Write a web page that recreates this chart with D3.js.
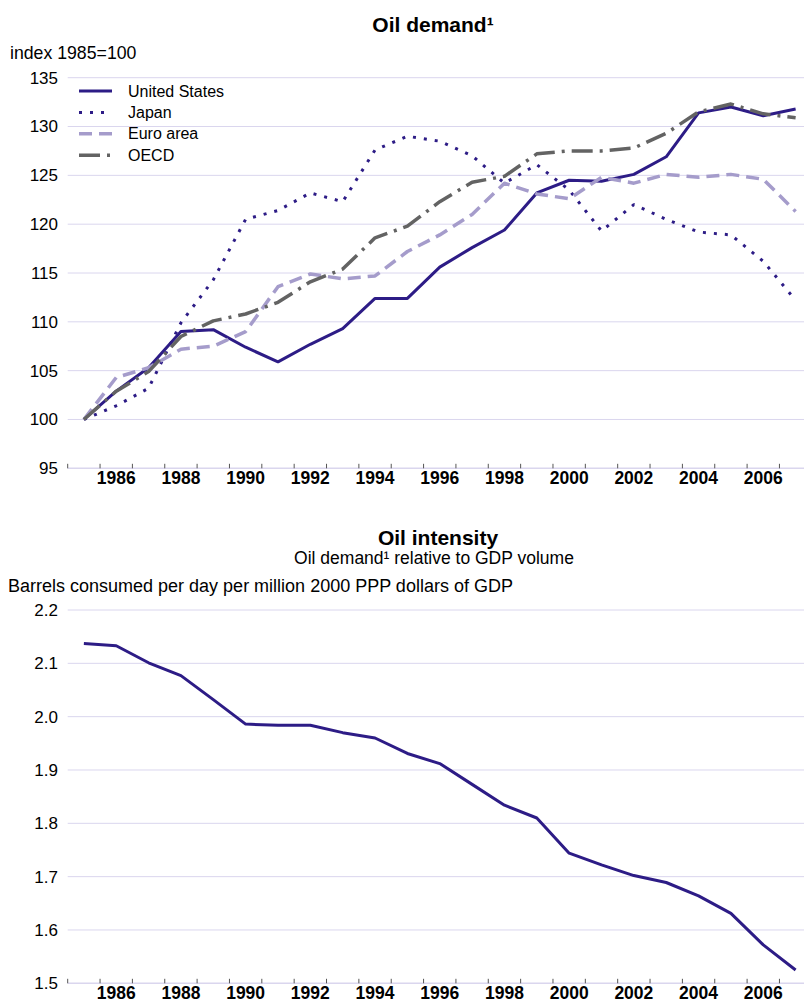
<!DOCTYPE html>
<html>
<head>
<meta charset="utf-8">
<script src="https://cdn.jsdelivr.net/npm/d3@7"></script>
<style>
  body { margin: 0; background: #fff; }
  text { font-family: "Liberation Sans", Arial, Helvetica, sans-serif; fill: #000; }
</style>
</head>
<body>
<div id="vis"></div>
<script>
// ==== DATA ====
const years = [1985, 1986, 1987, 1988, 1989, 1990, 1991, 1992, 1993, 1994, 1995, 1996,
               1997, 1998, 1999, 2000, 2001, 2002, 2003, 2004, 2005, 2006, 2007];
const yearLabels = [1986, 1988, 1990, 1992, 1994, 1996, 1998, 2000, 2002, 2004, 2006];

// Oil demand, index 1985=100
const usDemand   = [100, 102.9, 105.3, 109.0, 109.2, 107.4, 105.9, 107.7, 109.3, 112.4, 112.4, 115.6,
                    117.6, 119.4, 123.2, 124.5, 124.4, 125.1, 126.9, 131.4, 132.0, 131.1, 131.8];
const japanDemand = [100, 101.4, 103.2, 109.9, 114.3, 120.5, 121.4, 123.2, 122.3, 127.6, 129.0, 128.5,
                    127.0, 124.2, 126.1, 123.5, 119.3, 122.0, 120.5, 119.2, 118.9, 116.2, 112.2];
const euroDemand = [100, 104.3, 105.3, 107.2, 107.5, 109.0, 113.6, 114.9, 114.4, 114.7, 117.2, 118.9,
                    121.0, 124.2, 123.1, 122.6, 124.8, 124.2, 125.1, 124.8, 125.1, 124.6, 121.3];
const oecdDemand = [100, 102.9, 104.9, 108.5, 110.1, 110.8, 112.0, 114.1, 115.4, 118.6, 119.8, 122.3,
                    124.3, 124.9, 127.2, 127.5, 127.5, 127.8, 129.3, 131.5, 132.3, 131.3, 130.9];
const demandTicks = [95, 100, 105, 110, 115, 120, 125, 130, 135];

// Oil intensity, barrels per day per million 2000 PPP dollars of GDP
const usIntensity = [2.137, 2.133, 2.101, 2.077, 2.032, 1.986, 1.984, 1.984, 1.970, 1.960, 1.931, 1.912,
                     1.873, 1.834, 1.810, 1.744, 1.722, 1.702, 1.689, 1.664, 1.631, 1.572, 1.525];
const intensityTicks = [1.5, 1.6, 1.7, 1.8, 1.9, 2.0, 2.1, 2.2];

const series = [
  {name: "United States", values: usDemand,    color: "#2d1c86", width: 3,   dash: null},
  {name: "Japan",         values: japanDemand, color: "#2d1c86", width: 3,   dash: "3,8"},
  {name: "Euro area",     values: euroDemand,  color: "#a59ccb", width: 3.5, dash: "13,7"},
  {name: "OECD",          values: oecdDemand,  color: "#636363", width: 3.5, dash: "21,7,3,7"}
];

// ==== SETUP ====
const width = 804, height = 1003;
const svg = d3.select("#vis").append("svg")
  .attr("width", width)
  .attr("height", height);

const gridColor = "#dad6ee";
const x = d3.scaleBand().domain(years).range([67.7, 811.8]).padding(0);
const cx = d => x(d) + x.bandwidth() / 2;

// ==== PANEL ====
function drawPanel(y, ticks, fmt) {
  const g = svg.append("g");

  g.selectAll("line.grid")
    .data(ticks)
    .enter().append("line")
    .attr("class", "grid")
    .attr("x1", x.range()[0]).attr("x2", x.range()[1])
    .attr("y1", d => y(d)).attr("y2", d => y(d))
    .attr("stroke", gridColor)
    .attr("stroke-width", (d, i) => i === 0 ? 1.5 : 1);

  g.selectAll("text.ylab")
    .data(ticks)
    .enter().append("text")
    .attr("class", "ylab")
    .attr("x", 58)
    .attr("y", d => y(d))
    .attr("dy", "0.35em")
    .attr("text-anchor", "end")
    .style("font-size", "17px")
    .text(fmt);

  const base = y(ticks[0]);
  g.selectAll("line.xtick")
    .data(years)
    .enter().append("line")
    .attr("class", "xtick")
    .attr("x1", d => x(d)).attr("x2", d => x(d))
    .attr("y1", base).attr("y2", base - 4.5)
    .attr("stroke", "#555")
    .attr("stroke-width", 1);

  g.selectAll("text.xlab")
    .data(yearLabels)
    .enter().append("text")
    .attr("class", "xlab")
    .attr("x", d => cx(d))
    .attr("y", base + 15.7)
    .attr("text-anchor", "middle")
    .style("font-size", "17.5px")
    .style("font-weight", "bold")
    .text(d => d);

  return g;
}

// ==== TOP: OIL DEMAND ====
const yTop = d3.scaleLinear().domain([95, 135]).range([468.3, 77.7]);
const topPanel = drawPanel(yTop, demandTicks, d => d);

svg.append("text")
  .attr("x", 433).attr("y", 32)
  .attr("text-anchor", "middle")
  .style("font-size", "21px").style("font-weight", "bold")
  .text("Oil demand¹");

svg.append("text")
  .attr("x", 10).attr("y", 59)
  .style("font-size", "17.7px")
  .text("index 1985=100");

const lineTop = d3.line()
  .x((d, i) => cx(years[i]))
  .y(d => yTop(d));

topPanel.selectAll("path.series")
  .data(series)
  .enter().append("path")
  .attr("class", "series")
  .attr("d", d => lineTop(d.values))
  .attr("fill", "none")
  .attr("stroke", d => d.color)
  .attr("stroke-width", d => d.width)
  .attr("stroke-dasharray", d => d.dash)
  .attr("stroke-linejoin", "round");

// legend
const legend = topPanel.selectAll("g.legend")
  .data(series)
  .enter().append("g")
  .attr("class", "legend")
  .attr("transform", (d, i) => `translate(0,${91 + i * 21.4})`);

legend.append("line")
  .attr("x1", 79).attr("x2", 112)
  .attr("stroke", d => d.color)
  .attr("stroke-width", d => d.width)
  .attr("stroke-dasharray", d => d.dash);

legend.append("text")
  .attr("x", 128).attr("dy", "0.35em")
  .style("font-size", "16px")
  .text(d => d.name);

// ==== BOTTOM: OIL INTENSITY ====
const yBot = d3.scaleLinear().domain([1.5, 2.2]).range([983.3, 610]);
const botPanel = drawPanel(yBot, intensityTicks, d3.format(".1f"));

svg.append("text")
  .attr("x", 438).attr("y", 545)
  .attr("text-anchor", "middle")
  .style("font-size", "21px").style("font-weight", "bold")
  .text("Oil intensity");

svg.append("text")
  .attr("x", 434).attr("y", 564)
  .attr("text-anchor", "middle")
  .style("font-size", "17.5px")
  .text("Oil demand¹ relative to GDP volume");

svg.append("text")
  .attr("x", 8).attr("y", 592)
  .style("font-size", "18px")
  .text("Barrels consumed per day per million 2000 PPP dollars of GDP");

const lineBot = d3.line()
  .x((d, i) => cx(years[i]))
  .y(d => yBot(d));

botPanel.append("path")
  .attr("d", lineBot(usIntensity))
  .attr("fill", "none")
  .attr("stroke", "#2d1c86")
  .attr("stroke-width", 3)
  .attr("stroke-linejoin", "round");
</script>
</body>
</html>
